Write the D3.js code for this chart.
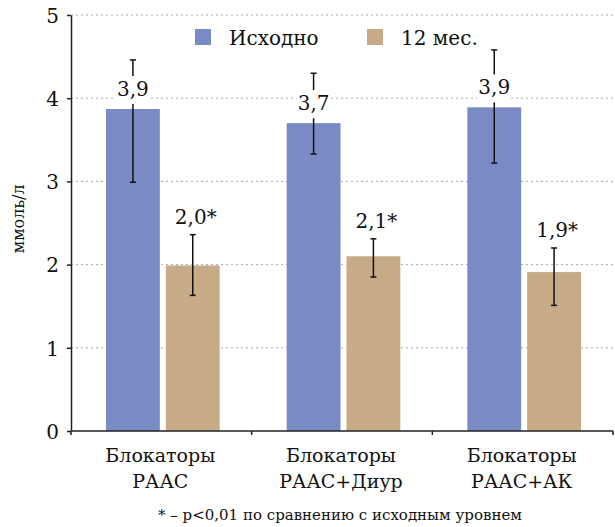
<!DOCTYPE html>
<html>
<head>
<meta charset="utf-8">
<script src="https://cdn.jsdelivr.net/npm/d3@7"></script>
<style>
  body { margin: 0; background: #fff; }
</style>
</head>
<body>
<script>
var groups = ["Блокаторы\nРААС", "Блокаторы\nРААС+Диур", "Блокаторы\nРААС+АК"];
var seriesNames = ["Исходно", "12 мес."];
var baseline = [3.87, 3.70, 3.89];
var month12 = [1.99, 2.10, 1.91];
var baselineLo = [2.99, 3.33, 3.22];
var baselineHi = [4.46, 4.30, 4.58];
var month12Lo = [1.63, 1.85, 1.51];
var month12Hi = [2.36, 2.31, 2.20];
var baselineLabels = ["3,9", "3,7", "3,9"];
var month12Labels = ["2,0*", "2,1*", "1,9*"];
var yTicks = [0, 1, 2, 3, 4, 5];
var colors = ["#7a8ac4", "#c6ab86"];

var FONT = "'DejaVu Serif', 'Liberation Serif', serif";
var W = 615, H = 527;
var margin = {top: 15, right: 2, bottom: 96, left: 71},
    width = W - margin.left - margin.right,
    height = H - margin.top - margin.bottom;

var root = d3.select("body").append("svg")
    .attr("width", W)
    .attr("height", H)
    .attr("fill", "#111");
var svg = root.append("g")
    .attr("transform", "translate(" + margin.left + "," + margin.top + ")");

var x0 = d3.scaleBand().domain(d3.range(groups.length)).range([0, width]);
var x1 = d3.scaleBand().domain([0, 1]).range([35, x0.bandwidth() - 32]).paddingInner(0.1);
var y = d3.scaleLinear().domain([0, 5]).range([height, 0]);

// grid
svg.append("g")
  .selectAll("line")
  .data(yTicks.filter(function(d) { return d > 0; }))
  .enter().append("line")
    .attr("x1", 0).attr("x2", width)
    .attr("y1", function(d) { return y(d); })
    .attr("y2", function(d) { return y(d); })
    .attr("stroke", "#aaa")
    .attr("stroke-dasharray", "2,3");

var data = groups.map(function(g, i) {
  return [
    {s: 0, v: baseline[i], lo: baselineLo[i], hi: baselineHi[i], lab: baselineLabels[i]},
    {s: 1, v: month12[i], lo: month12Lo[i], hi: month12Hi[i], lab: month12Labels[i]}
  ];
});

var grp = svg.selectAll(".grp")
    .data(data)
  .enter().append("g")
    .attr("class", "grp")
    .attr("transform", function(d, i) { return "translate(" + x0(i) + ",0)"; });

grp.selectAll("rect")
    .data(function(d) { return d; })
  .enter().append("rect")
    .attr("x", function(d) { return x1(d.s); })
    .attr("width", x1.bandwidth())
    .attr("y", function(d) { return y(d.v); })
    .attr("height", function(d) { return height - y(d.v); })
    .attr("fill", function(d) { return colors[d.s]; });

var err = grp.selectAll(".err")
    .data(function(d) { return d; })
  .enter().append("g")
    .attr("class", "err")
    .attr("transform", function(d) { return "translate(" + (x1(d.s) + x1.bandwidth() / 2) + ",0)"; });

err.append("line")
    .attr("y1", function(d) { return y(d.lo); })
    .attr("y2", function(d) { return y(d.hi); });
err.append("line")
    .attr("x1", -3).attr("x2", 3)
    .attr("y1", function(d) { return y(d.lo); })
    .attr("y2", function(d) { return y(d.lo); });
err.append("line")
    .attr("x1", -3).attr("x2", 3)
    .attr("y1", function(d) { return y(d.hi); })
    .attr("y2", function(d) { return y(d.hi); });
err.selectAll("line").attr("stroke", "#111").attr("stroke-width", 1.5);

// value labels: baseline labels sit on the bar with a white box, 12-month ones above the error bar
var labY = function(d) { return d.s === 0 ? y(d.v) - 13 : y(d.hi) - 11; };
err.filter(function(d) { return d.s === 0; }).append("rect")
    .attr("x", -17).attr("width", 34)
    .attr("y", function(d) { return labY(d) - 20; })
    .attr("height", 28)
    .attr("fill", "#fff");
err.append("text")
    .attr("y", labY)
    .attr("x", function(d) { return d.s === 1 ? 3 : 0; })
    .attr("text-anchor", "middle")
    .style("font-family", FONT)
    .style("font-size", "20px")
    .text(function(d) { return d.lab; });

// axes
var yAxis = svg.append("g")
    .call(d3.axisLeft(y).tickValues(yTicks).tickSize(4).tickSizeOuter(0).tickFormat(d3.format("d")));
yAxis.selectAll("path, line").attr("stroke", "#222").attr("stroke-width", 1.5);
yAxis.selectAll("text")
    .attr("x", -12)
    .attr("dy", "0.36em")
    .attr("fill", "#111")
    .style("font-family", FONT)
    .style("font-size", "20px");

var xAxis = svg.append("g")
    .attr("transform", "translate(0," + height + ")");
xAxis.append("line").attr("x1", 0).attr("x2", width);
xAxis.selectAll(".tk")
    .data(d3.range(groups.length + 1))
  .enter().append("line")
    .attr("x1", function(d) { return d * x0.bandwidth(); })
    .attr("x2", function(d) { return d * x0.bandwidth(); })
    .attr("y1", 0).attr("y2", 4);
xAxis.selectAll("line").attr("stroke", "#222").attr("stroke-width", 1.5);

var cat = svg.selectAll(".cat")
    .data(groups)
  .enter().append("text")
    .attr("class", "cat")
    .attr("x", function(d, i) { return x0(i) + x0.bandwidth() / 2 - 1; })
    .attr("y", height + 31)
    .attr("text-anchor", "middle")
    .style("font-family", FONT)
    .style("font-size", "19px");
cat.selectAll("tspan")
    .data(function(d) { return d.split("\n"); })
  .enter().append("tspan")
    .attr("x", function() { return d3.select(this.parentNode).attr("x"); })
    .attr("dy", function(d, i) { return i === 0 ? 0 : 26; })
    .text(function(d) { return d; });

// y title
svg.append("text")
    .attr("transform", "translate(-47," + y(2.55) + ") rotate(-90)")
    .attr("text-anchor", "middle")
    .style("font-family", FONT)
    .style("font-size", "16px")
    .text("ммоль/л");

// legend
var legendX = [124, 296];
var legend = svg.selectAll(".legend")
    .data(seriesNames)
  .enter().append("g")
    .attr("class", "legend")
    .attr("transform", function(d, i) { return "translate(" + legendX[i] + ",14)"; });
legend.append("rect")
    .attr("width", 16).attr("height", 16)
    .attr("fill", function(d, i) { return colors[i]; });
legend.append("text")
    .attr("x", 34).attr("y", 16)
    .style("font-family", FONT)
    .style("font-size", "20px")
    .text(function(d) { return d; });

// footnote
svg.append("text")
    .attr("x", width / 2 - 2)
    .attr("y", H - margin.top - 7)
    .attr("text-anchor", "middle")
    .style("font-family", FONT)
    .style("font-size", "15px")
    .text("* – p<0,01 по сравнению с исходным уровнем");
</script>
</body>
</html>
